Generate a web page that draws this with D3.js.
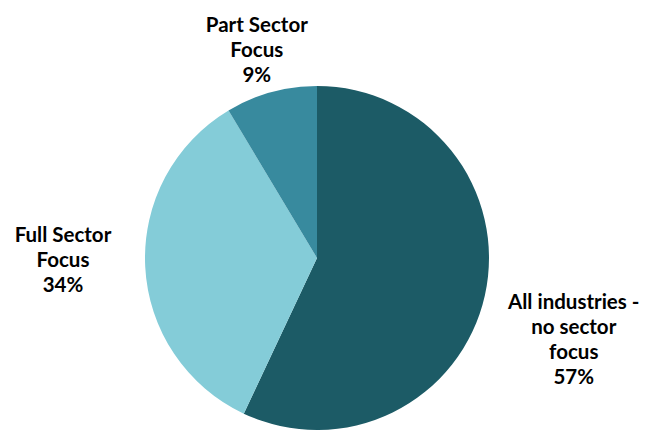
<!DOCTYPE html>
<html>
<head>
<meta charset="utf-8">
<script src="https://cdn.jsdelivr.net/npm/d3@7"></script>
<style>
  body { margin: 0; background: #fff; }
  text { font-family: Lato, "Open Sans", sans-serif; font-weight: bold; fill: #000; }
</style>
</head>
<body>
<div id="chart"></div>
<script>
// slices, clockwise from 12 o'clock
var categories = ["All industries - no sector focus", "Full Sector Focus", "Part Sector Focus"];
var labelLines = [["All industries -", "no sector", "focus"], ["Full Sector", "Focus"], ["Part Sector", "Focus"]];
var shares = [57, 34.4, 8.6];
var colors = ["#1c5b66", "#84ccd8", "#388a9e"];

var width = 660, height = 430;
var cx = 317, cy = 258, radius = 172;
var lineH = 25, capH = 14.8, gap = 10;
// small nudges so labels sit where the original best-fit put them
var nudge = { 0: [15, 32], 1: [-24, -9], 2: [2, -2] };

var svg = d3.select("#chart").append("svg")
    .attr("width", width)
    .attr("height", height);

var g = svg.append("g")
    .attr("transform", "translate(" + cx + "," + cy + ")");

var pie = d3.pie().sort(null).value(function(d) { return d; });
var arc = d3.arc().innerRadius(0).outerRadius(radius);
var arcs = pie(shares);
var total = d3.sum(shares);
var pct = d3.format(".0%");

g.selectAll("path.slice")
  .data(arcs)
  .enter().append("path")
    .attr("class", "slice")
    .attr("d", arc)
    .attr("fill", function(d, i) { return colors[i]; });

// labels outside each slice
arcs.forEach(function(d, i) {
  var lines = labelLines[i].concat([pct(d.value / total)]);
  var t = g.append("text")
      .style("font-size", "20.5px")
      .attr("text-anchor", "middle");
  lines.forEach(function(s) {
    t.append("tspan").attr("x", 0).text(s);
  });
  var w = d3.max(t.selectAll("tspan").nodes(), function(n) { return n.getComputedTextLength(); });
  var h = (lines.length - 1) * lineH + capH;
  var a = (d.startAngle + d.endAngle) / 2;
  var s = Math.sin(a), c = -Math.cos(a);
  var x = s * (radius + gap + w / 2) + nudge[i][0];
  var y = c * (radius + gap + h / 2) + nudge[i][1];
  var y0 = y - h / 2 + capH;
  t.selectAll("tspan")
    .attr("x", x)
    .attr("y", function(_, j) { return y0 + j * lineH; });
});
</script>
</body>
</html>
